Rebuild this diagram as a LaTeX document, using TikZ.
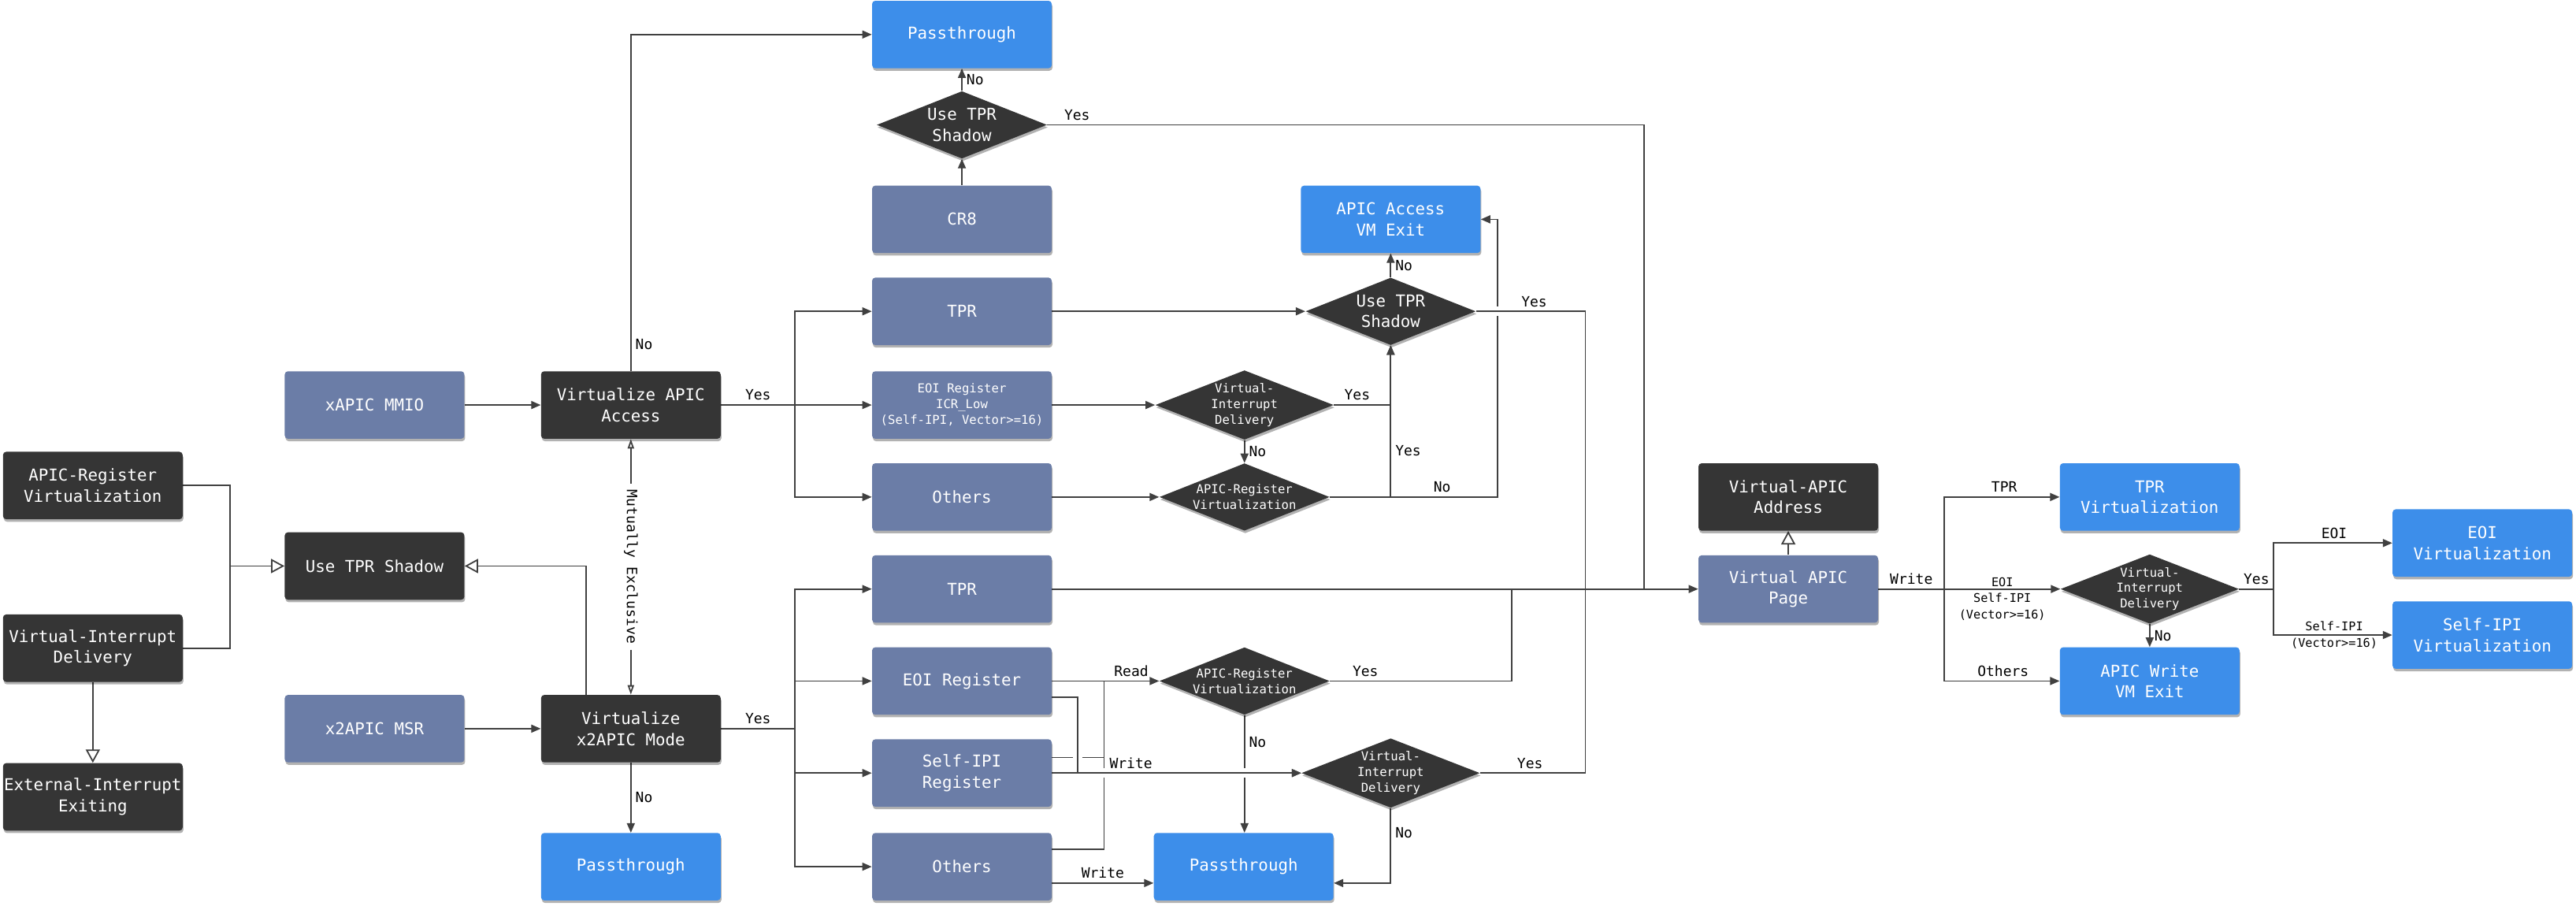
\documentclass[tikz,border=0pt]{standalone}
\usepackage{fontspec}
\setmainfont{DejaVu Sans Mono}
\usetikzlibrary{shapes.geometric, arrows.meta, calc, shadows, backgrounds}
\definecolor{apicdark}{HTML}{353535}
\definecolor{apicslate}{HTML}{6B7DA7}
\definecolor{apicblue}{HTML}{3D8EEA}
\definecolor{apicline}{HTML}{404040}

\begin{document}
\begin{tikzpicture}[x=1.0428pt, y=-1.0428pt,
  box/.style={rectangle, rounded corners=2pt, minimum width=114pt, minimum height=42.8pt,
    inner xsep=0pt, inner ysep=2pt, align=center, text=white,
    font=\fontsize{10.4}{13.3}\selectfont,
    drop shadow={shadow xshift=0.5pt, shadow yshift=-1.6pt, opacity=0.3, fill=black}},
  darkbox/.style={box, fill=apicdark},
  regbox/.style={box, fill=apicslate},
  exitbox/.style={box, fill=apicblue},
  decision/.style={diamond, aspect=2.57, minimum width=108pt, minimum height=42.8pt,
    inner sep=0pt, fill=apicdark, text=white, align=center,
    font=\fontsize{10.4}{13.3}\selectfont,
    drop shadow={shadow xshift=0.5pt, shadow yshift=-1.6pt, opacity=0.3, fill=black}},
  smalltext/.style={font=\fontsize{7.8}{10}\selectfont},
  lbl/.style={font=\fontsize{9}{11}\selectfont, inner sep=2.5pt},
  tinylbl/.style={font=\fontsize{7.6}{10.2}\selectfont, align=center, inner sep=1pt},
  wire/.style={draw=apicline, line width=0.9pt},
  arr/.style={wire, -{Triangle[length=6pt, width=5pt]}},
  inh/.style={wire, -{Triangle[open, length=8.5pt, width=9pt]}},
  mutex/.style={wire, {Triangle[open, length=6pt, width=4pt]}-{Triangle[open, length=6pt, width=4pt]}},
  hop/.style={preaction={draw=white, line width=6pt, -}}
]
  \useasboundingbox (0,0) rectangle (1568,551);

  % Features on the left
  \node[darkbox] (aprvL) at (56.5,295.5) {APIC-Register\\Virtualization};
  \node[darkbox] (vidL) at (56.5,394.5) {Virtual-Interrupt\\Delivery};
  \node[darkbox] (eie) at (56.5,485) {External-Interrupt\\Exiting};
  \node[darkbox] (tprsh) at (228,344.5) {Use TPR Shadow};

  % Access paths
  \node[regbox] (xmmio) at (228,246.5) {xAPIC MMIO};
  \node[regbox] (msr) at (228,443.5) {x2APIC MSR};
  \node[darkbox] (vaa) at (384,246.5) {Virtualize APIC\\Access};
  \node[darkbox] (vxm) at (384,443.5) {Virtualize\\x2APIC Mode};
  \node[exitbox] (ptL) at (384,527.5) {Passthrough};

  % Registers
  \node[exitbox] (ptT) at (585.5,21) {Passthrough};
  \node[decision] (utsT) at (585.5,76) {Use TPR\\Shadow};
  \node[regbox] (cr8) at (585.5,133.5) {CR8};
  \node[regbox] (tprA) at (585.5,189.5) {TPR};
  \node[regbox, smalltext] (eoiA) at (585.5,246.5) {EOI Register\\ICR\_Low\\(Self-IPI, Vector>=16)};
  \node[regbox] (othA) at (585.5,302.5) {Others};
  \node[regbox] (tprB) at (585.5,358.5) {TPR};
  \node[regbox] (eoiB) at (585.5,414.5) {EOI Register};
  \node[regbox] (sipiB) at (585.5,470.5) {Self-IPI\\Register};
  \node[regbox] (othB) at (585.5,527.5) {Others};

  % Checks
  \node[decision, smalltext] (vidA) at (757.5,246.5) {Virtual-\\Interrupt\\Delivery};
  \node[decision, smalltext] (aprvA) at (757.5,302.5) {APIC-Register\\Virtualization};
  \node[decision, smalltext] (aprvB) at (757.5,414.5) {APIC-Register\\Virtualization};
  \node[exitbox] (ptM) at (757,527.5) {Passthrough};
  \node[exitbox] (vmxA) at (846.5,133.5) {APIC Access\\VM Exit};
  \node[decision] (utsM) at (846.5,189.5) {Use TPR\\Shadow};
  \node[decision, smalltext] (vidB) at (846.5,470.5) {Virtual-\\Interrupt\\Delivery};

  % Virtual APIC page
  \node[darkbox] (vaddr) at (1088.5,302.5) {Virtual-APIC\\Address};
  \node[regbox] (vpage) at (1088.5,358.5) {Virtual APIC\\Page};
  \node[exitbox] (tprv) at (1308.5,302.5) {TPR\\Virtualization};
  \node[decision, smalltext] (vidR) at (1308.5,358.5) {Virtual-\\Interrupt\\Delivery};
  \node[exitbox] (wexit) at (1308.5,414.5) {APIC Write\\VM Exit};
  \node[exitbox] (eoiv) at (1511,330.5) {EOI\\Virtualization};
  \node[exitbox] (sipiv) at (1511,386.5) {Self-IPI\\Virtualization};

  % Junctions
  \coordinate (jl) at (140,344.5);
  \coordinate (ja) at (484,246.5);
  \coordinate (jb) at (484,443.5);
  \coordinate (jn) at (911.5,302.5);
  \coordinate (jm) at (965,358.5);
  \coordinate (jt) at (1000.6,358.5);
  \coordinate (jy) at (920,358.5);
  \coordinate (jr) at (672,414.5);
  \coordinate (jw) at (656,470.5);
  \coordinate (jp) at (1183.5,358.5);
  \coordinate (je) at (1384,358.5);

  \begin{scope}[on background layer]
    \fill[white] (0,0) rectangle (1568,551);

    % Left side
    \draw[wire] (aprvL.east) -| (jl) |- (vidL.east);
    \draw[inh] (jl) -- (tprsh.west);
    \draw[inh] (vidL.south) -- (eie.north);
    \draw[inh] ($(vxm.north west)!0.5!(vxm.north)$) |- (tprsh.east);
    \draw[arr] (xmmio.east) -- (vaa.west);
    \draw[arr] (msr.east) -- (vxm.west);
    \draw[mutex] (vaa.south) -- (vxm.north)
      node[midway, lbl, fill=white, rotate=-90, inner xsep=4pt] {Mutually Exclusive};
    \draw[arr] (vaa.north) |- (ptT.west) node[lbl, pos=0.04, right] {No};
    \draw[arr] (vxm.south) -- (ptL.north) node[lbl, midway, right] {No};

    % Branches to the registers
    \draw[wire] (vaa.east) -- (ja) node[lbl, midway, above] {Yes};
    \draw[arr] (ja) |- (tprA.west);
    \draw[arr] (ja) -- (eoiA.west);
    \draw[arr] (ja) |- (othA.west);
    \draw[wire] (vxm.east) -- (jb) node[lbl, midway, above] {Yes};
    \draw[arr] (jb) |- (tprB.west);
    \draw[arr] (jb) |- (eoiB.west);
    \draw[arr] (jb) |- (sipiB.west);
    \draw[arr] (jb) |- (othB.west);

    % CR8
    \draw[arr] (cr8.north) -- (utsT.south);
    \draw[arr] (utsT.north) -- (ptT.south) node[lbl, midway, right] {No};
    \draw[wire] (utsT.east) -| (jt) node[lbl, pos=0.025, above] {Yes};

    % xAPIC MMIO registers
    \draw[arr] (tprA.east) -- (utsM.west);
    \draw[arr] (utsM.north) -- (vmxA.south) node[lbl, midway, right] {No};
    \draw[arr] (eoiA.east) -- (vidA.west);
    \draw[arr] (vidA.east) -| (utsM.south) node[lbl, pos=0.205, above] {Yes};
    \draw[arr] (vidA.south) -- (aprvA.north) node[lbl, midway, right] {No};
    \draw[arr] (othA.east) -- (aprvA.west);
    \draw[arr] (aprvA.east) -| (utsM.south) node[lbl, pos=0.654, right] {Yes};
    \draw[arr] (aprvA.east) -- node[lbl, pos=0.67, above] {No} (jn) |- (vmxA.east);

    % x2APIC MSR registers
    \draw[arr] (eoiB.east) -- (aprvB.west) node[lbl, pos=0.74, above] {Read};
    \draw[wire] ([yshift=10.9pt]othB.east) -| (jr);
    \draw[wire] ([yshift=9.9pt]sipiB.east) -| (jr);
    \draw[wire] (aprvB.east) -| (jy) node[lbl, pos=0.098, above] {Yes};
    \draw[arr] (aprvB.south) -- (aprvB.south |- ptM.north) node[lbl, pos=0.23, right] {No};
    \draw[arr] ([yshift=-10.4pt]othB.east) -- ([yshift=-10.4pt]ptM.west)
      node[lbl, midway, above] {Write};

    % crossings
    \draw[wire, hop] (utsM.east) -| (jm) node[lbl, pos=0.266, above] {Yes};
    \draw[arr, hop] ([yshift=-10.4pt]eoiB.east) -| (jw)
      -- node[lbl, pos=0.238, above] {Write} (vidB.west);
    \draw[arr] (sipiB.east) -- (vidB.west);
    \draw[wire] (vidB.east) -| (jm) node[lbl, pos=0.237, above] {Yes};
    \draw[arr] (vidB.south) |- ([yshift=-10.4pt]ptM.east) node[lbl, pos=0.167, right] {No};
    \draw[arr] (tprB.east) -- (vpage.west);

    % Virtual APIC page
    \draw[inh] (vpage.north) -- (vaddr.south);
    \draw[wire] (vpage.east) -- (jp) node[lbl, midway, above] {Write};
    \draw[arr] (jp) |- (tprv.west) node[lbl, pos=0.76, above] {TPR};
    \draw[arr] (jp) -- (vidR.west)
      node[tinylbl, midway, yshift=-6.2pt] {EOI\\Self-IPI\\(Vector>=16)};
    \draw[arr] (jp) |- (wexit.west) node[lbl, pos=0.755, above] {Others};
    \draw[arr] (vidR.south) -- (wexit.north) node[lbl, midway, right] {No};
    \draw[wire] (vidR.east) -- (je) node[lbl, midway, above] {Yes};
    \draw[arr] (je) |- (eoiv.west) node[lbl, pos=0.755, above] {EOI};
    \draw[arr] (je) |- (sipiv.west) node[tinylbl, pos=0.755] {Self-IPI\\(Vector>=16)};
  \end{scope}
\end{tikzpicture}
\end{document}
